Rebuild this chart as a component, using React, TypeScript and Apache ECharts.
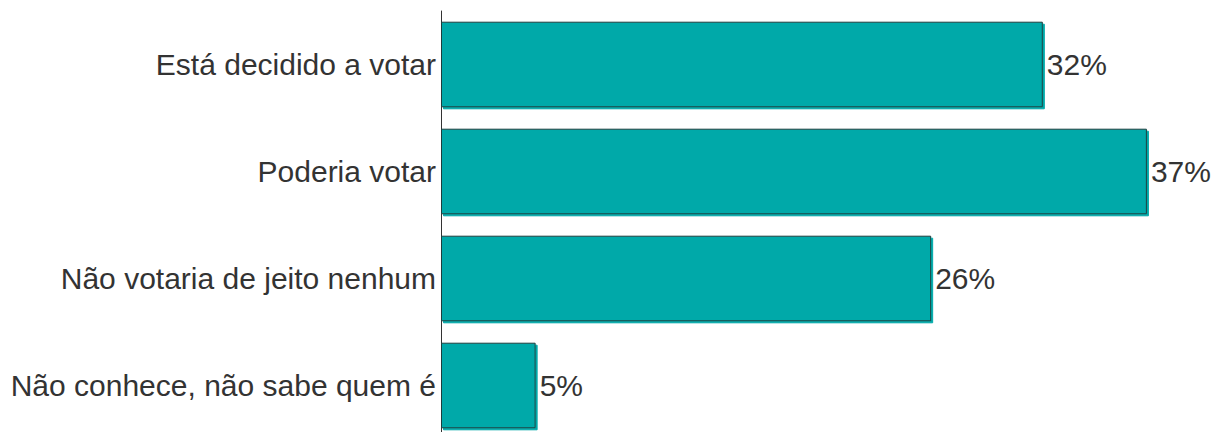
import React, { useEffect, useRef } from "react";
import * as echarts from "echarts";

const categories = [
  "Está decidido a votar",
  "Poderia votar",
  "Não votaria de jeito nenhum",
  "Não conhece, não sabe quem é",
];
const values = [31.8, 37.3, 25.9, 5.0];

export default function App() {
  const ref = useRef<HTMLDivElement>(null);
  useEffect(() => {
    const chart = echarts.init(ref.current!, null, { renderer: "svg" });
    chart.setOption({
      animation: false,
      grid: { left: 441, top: 11, width: 757, height: 428, outerBoundsMode: "none", containLabel: false },
      xAxis: {
        type: "value",
        min: 0,
        max: 40,
        show: false,
      },
      yAxis: {
        type: "category",
        data: categories,
        inverse: true,
        axisLine: { show: true, lineStyle: { color: "#333", width: 1 } },
        axisTick: { show: false },
        axisLabel: {
          color: "#333",
          fontSize: 30,
          fontFamily: "Liberation Sans",
          margin: 5,
        },
      },
      series: [
        {
          type: "bar",
          data: values,
          barCategoryGap: "20%",
          itemStyle: {
            color: "#00A9A9",
            borderColor: "#1F3D3D",
            borderWidth: 1,
            shadowColor: "#00A9A9",
            shadowOffsetX: 2,
            shadowOffsetY: 2,
            shadowBlur: 0,
          },
          label: {
            show: true,
            position: "right",
            distance: 4,
            formatter: (p: any) => Math.round(p.value) + "%",
            color: "#333",
            fontSize: 30,
            fontFamily: "Liberation Sans",
          },
        },
      ],
    });
    return () => chart.dispose();
  }, []);
  return (
    <div
      ref={ref}
      style={{ position: "fixed", left: 0, top: 0, width: 1224, height: 432, background: "#fff" }}
    />
  );
}
